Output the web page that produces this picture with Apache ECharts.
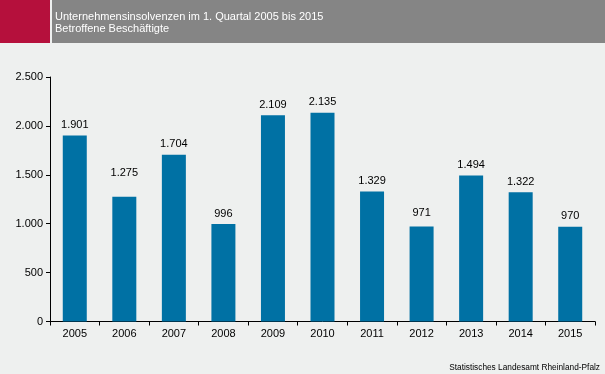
<!DOCTYPE html>
<html><head><meta charset="utf-8">
<script src="https://cdn.jsdelivr.net/npm/echarts@6/dist/echarts.min.js"></script>
<style>html,body{margin:0;padding:0;background:#eef0ef}#c{width:605px;height:374px}</style>
</head><body><div id="c"></div>
<script>
const categories = ['2005','2006','2007','2008','2009','2010','2011','2012','2013','2014','2015'];
const values = [1901, 1275, 1704, 996, 2109, 2135, 1329, 971, 1494, 1322, 970];
const yTicks = [0, 500, 1000, 1500, 2000, 2500];
const title1 = 'Unternehmensinsolvenzen im 1. Quartal 2005 bis 2015';
const title2 = 'Betroffene Beschäftigte';
const source = 'Statistisches Landesamt Rheinland-Pfalz';

const labelGap = {'2006': 18, '2012': 8};
const fmt = v => v.toLocaleString('de-DE');
const chart = echarts.init(document.getElementById('c'), null, {renderer: 'canvas'});
chart.setOption({
  backgroundColor: '#eef0ef',
  animation: false,
  graphic: [
    {type: 'rect', shape: {x: 0, y: 0, width: 50, height: 43}, style: {fill: '#b5103c'}},
    {type: 'rect', shape: {x: 52, y: 0, width: 553, height: 43}, style: {fill: '#858585'}},
    {type: 'text', left: 55, top: 11, style: {text: title1, fill: '#ffffff', font: '11px "Liberation Sans", Arial, sans-serif'}},
    {type: 'text', left: 55, top: 23, style: {text: title2, fill: '#ffffff', font: '11px "Liberation Sans", Arial, sans-serif'}},
    {type: 'text', right: 5, top: 364, style: {text: source, fill: '#000000', font: '8.3px "Liberation Sans", Arial, sans-serif'}}
  ],
  grid: {left: 50, right: 10, top: 77, bottom: 52.5, containLabel: false},
  xAxis: {
    type: 'category', data: categories,
    axisLine: {lineStyle: {color: '#000', width: 1}},
    axisTick: {show: true, length: 4, lineStyle: {color: '#000'}},
    axisLabel: {color: '#000', fontSize: 11, fontFamily: '"Liberation Sans", Arial, sans-serif', margin: 7}
  },
  yAxis: {
    type: 'value', min: yTicks[0], max: yTicks[yTicks.length - 1], interval: 500,
    axisLine: {show: true, lineStyle: {color: '#000', width: 1}},
    axisTick: {show: true, length: 4, lineStyle: {color: '#000'}},
    splitLine: {show: false},
    axisLabel: {color: '#000', fontSize: 11, fontFamily: '"Liberation Sans", Arial, sans-serif', margin: 7, formatter: fmt}
  },
  series: [{
    type: 'bar', barWidth: 24,
    itemStyle: {color: '#0071a4'},
    data: values.map((v, i) => ({value: v, label: {distance: labelGap[categories[i]] || 5}})),
    label: {show: true, position: 'top', color: '#000', fontSize: 11, fontFamily: '"Liberation Sans", Arial, sans-serif', formatter: p => fmt(p.value)}
  }]
});
</script></body></html>
